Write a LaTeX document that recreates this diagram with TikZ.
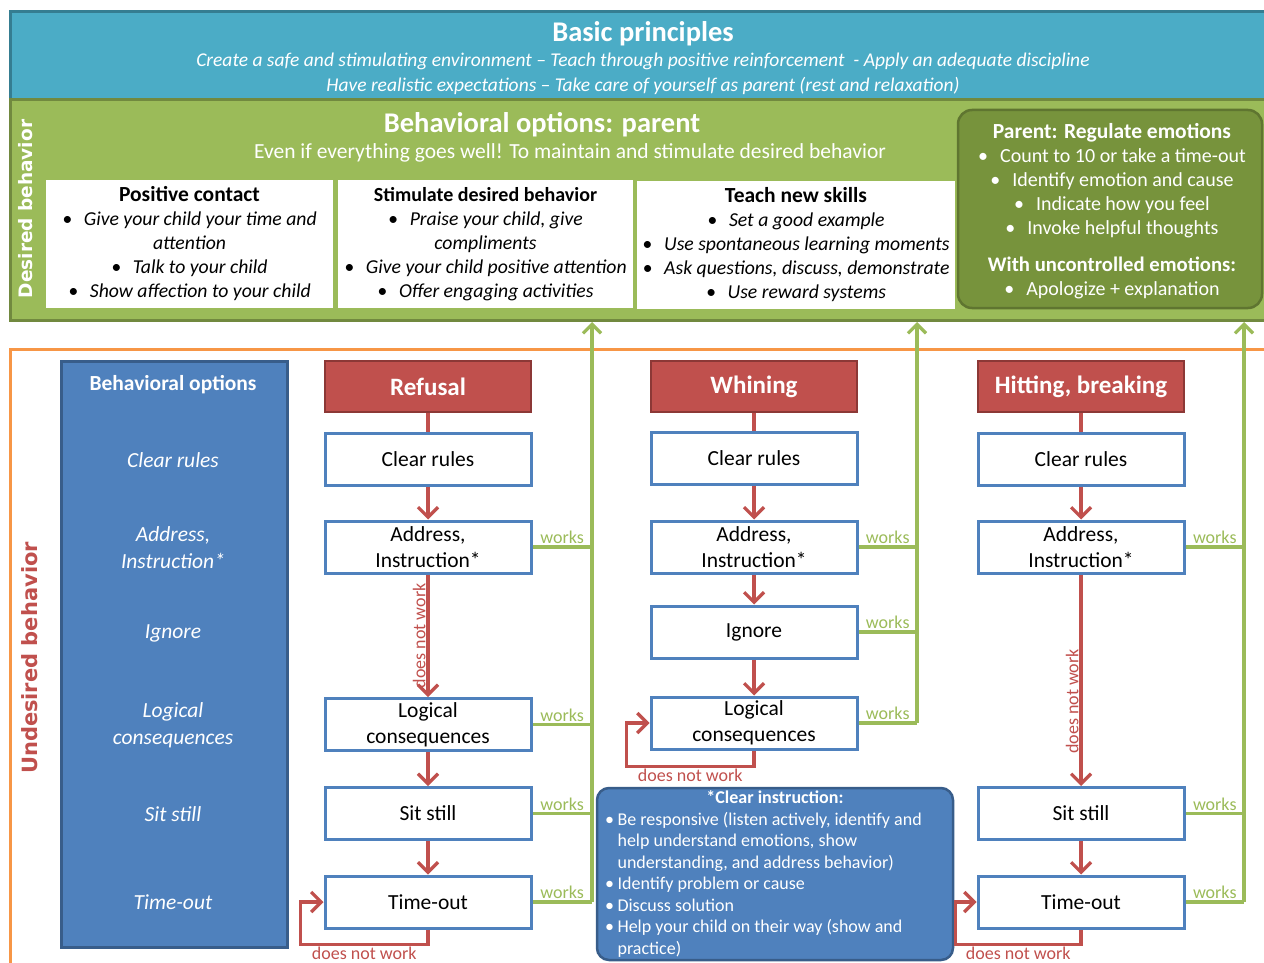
\documentclass[tikz,border=0pt]{standalone}
\usepackage{fontspec}
\setmainfont{Carlito}
\newfontfamily\sidefont{DejaVu Sans}
\usetikzlibrary{arrows.meta}
\definecolor{aquafill}{HTML}{4BACC6}
\definecolor{aquaedge}{HTML}{357D91}
\definecolor{greenfill}{HTML}{9BBB59}
\definecolor{greenedge}{HTML}{71893F}
\definecolor{dkgreen}{HTML}{77933C}
\definecolor{dkgreenedge}{HTML}{5F7530}
\definecolor{orangeln}{HTML}{F79646}
\definecolor{bluefill}{HTML}{4F81BD}
\definecolor{blueedge}{HTML}{385D8A}
\definecolor{redfill}{HTML}{C0504D}
\definecolor{rededge}{HTML}{8C3836}
\newcommand{\ib}{\textbullet\hspace{0.6em}}
\newcommand{\sbul}{\textbullet\hspace{0.2em}}
\tikzset{
  skillbox/.style={fill=white,minimum height=128pt,align=center,inner sep=1pt,
    font=\fontsize{19.7}{24}\selectfont},
  optbox/.style={draw=bluefill,line width=3pt,fill=white,minimum width=206pt,
    minimum height=52pt,align=center,inner sep=1pt,font=\fontsize{21.5}{26}\selectfont},
  headbox/.style={draw=rededge,line width=2.5pt,fill=redfill,minimum width=206pt,
    minimum height=51pt,text=white,font=\bfseries\fontsize{25}{30}\selectfont},
  optlbl/.style={text=white,align=center,font=\itshape\fontsize{21.5}{27}\selectfont},
  nextarr/.style={draw=redfill,line width=3.2pt,-{Straight Barb[length=10pt,width=20pt]}},
  redln/.style={draw=redfill,line width=3.2pt},
  worksline/.style={draw=greenfill,line width=3.2pt},
  uparr/.style={-{Straight Barb[length=9pt,width=18pt]}},
  workslbl/.style={text=greenfill,above,inner sep=1.5pt,font=\fontsize{18}{20}\selectfont},
  nwlbl/.style={text=redfill,inner sep=1pt,font=\fontsize{18}{20}\selectfont}
}
\begin{document}
\begin{tikzpicture}[x=1pt,y=-1pt]
\clip (0,0) rectangle (1264,963);
% basic principles
\filldraw[fill=aquafill,draw=aquaedge,line width=3pt] (10,12) rectangle (1290,100);
\node[white,font=\bfseries\fontsize{28.5}{32}\selectfont] (bp) at (643,34) {Basic principles};
\node[white,font=\itshape\fontsize{19.5}{24}\selectfont] (bp1) at (643,61) {Create a safe and stimulating environment – Teach through positive reinforcement\ \ - Apply an adequate discipline};
\node[white,font=\itshape\fontsize{19.5}{24}\selectfont] (bp2) at (643,86) {Have realistic expectations – Take care of yourself as parent (rest and relaxation)};
% desired behavior
\filldraw[fill=greenfill,draw=greenedge,line width=3pt] (10,100) rectangle (1290,320);
\node[white,rotate=90,font=\sidefont\bfseries\fontsize{18.5}{20}\selectfont] (desired) at (26,209) {Desired behavior};
\node[white,font=\bfseries\fontsize{28.5}{32}\selectfont] (bop) at (542,125) {Behavioral options: parent};
\node[white,font=\fontsize{21.5}{24}\selectfont] (bop1) at (570,153) {Even if everything goes well! To maintain and stimulate desired behavior};
\node[skillbox,minimum width=287pt] (contact) at (189.5,244) {{\bfseries\fontsize{21.5}{24}\selectfont Positive contact}\\
  \textit{\ib Give your child your time and}\\ \textit{attention}\\
  \textit{\ib Talk to your child}\\ \textit{\ib Show affection to your child}};
\node[skillbox,minimum width=295pt] (stimulate) at (485.5,244) {{\bfseries\fontsize{20}{24}\selectfont Stimulate desired behavior}\\
  \textit{\ib Praise your child, give}\\ \textit{compliments}\\
  \textit{\ib Give your child positive attention}\\ \textit{\ib Offer engaging activities}};
\node[skillbox,minimum width=318pt] (teach) at (796,245) {{\bfseries\fontsize{21.5}{24}\selectfont Teach new skills}\\
  \textit{\ib Set a good example}\\ \textit{\ib Use spontaneous learning moments}\\
  \textit{\ib Ask questions, discuss, demonstrate}\\ \textit{\ib Use reward systems}};
\node[fill=dkgreen,draw=dkgreenedge,line width=2.5pt,rounded corners=14pt,minimum width=304pt,
  minimum height=198pt,text=white,align=center,font=\fontsize{20}{24}\selectfont] (regulate) at (1110,209) {};
\node[text=white,align=center,font=\fontsize{20}{24}\selectfont] (regtext) at (1112,211)
  {{\bfseries\fontsize{21.5}{24}\selectfont Parent: Regulate emotions}\\
  \ib Count to 10 or take a time-out\\ \ib Identify emotion and cause\\
  \ib Indicate how you feel\\ \ib Invoke helpful thoughts\\[13pt]
  {\bfseries\fontsize{20.7}{24}\selectfont With uncontrolled emotions:}\\ \ib Apologize + explanation};
% undesired behavior
\draw[orangeln,line width=3pt] (10,349) rectangle (1290,1000);
\node[text=redfill,rotate=90,font=\sidefont\bfseries\fontsize{21}{24}\selectfont] (undesired) at (30,658) {Undesired behavior};
\node[fill=bluefill,draw=blueedge,line width=3pt,minimum width=226pt,minimum height=586pt] (optcol) at (174,654) {};
\node[white,font=\bfseries\fontsize{21.5}{24}\selectfont] (opthead) at (173,385) {Behavioral options};
\node[optlbl] (o1) at (173,460) {Clear rules};
\node[optlbl] (o2) at (173,548) {Address,\\Instruction*};
\node[optlbl] (o3) at (173,633) {Ignore};
\node[optlbl] (o4) at (173,725) {Logical\\consequences};
\node[optlbl] (o5) at (173,814) {Sit still};
\node[optlbl] (o6) at (173,902) {Time-out};
% refusal
\node[headbox] (ref) at (428,386.5) {Refusal};
\node[optbox] (refR) at (428,459) {Clear rules};
\node[optbox] (refA) at (428,547) {Address,\\Instruction*};
\node[optbox] (refL) at (428,724.5) {Logical\\consequences};
\node[optbox] (refS) at (428,813.5) {Sit still};
\node[optbox] (refT) at (428,902) {Time-out};
% whining
\node[headbox] (whi) at (754,386.5) {Whining};
\node[optbox] (whiR) at (754,458) {Clear rules};
\node[optbox] (whiA) at (754,547) {Address,\\Instruction*};
\node[optbox] (whiI) at (754,632) {Ignore};
\node[optbox] (whiL) at (754,723) {Logical\\consequences};
% hitting
\node[headbox] (hit) at (1081,386.5) {Hitting, breaking};
\node[optbox] (hitR) at (1081,459) {Clear rules};
\node[optbox] (hitA) at (1081,547) {Address,\\Instruction*};
\node[optbox] (hitS) at (1081,813.5) {Sit still};
\node[optbox] (hitT) at (1081,902) {Time-out};
% clear instruction
\node[fill=bluefill,draw=blueedge,line width=2.5pt,rounded corners=12pt,minimum width=356pt,
  minimum height=172pt,inner sep=2pt,text=white,align=left,font=\fontsize{18}{21.5}\selectfont] (instr) at (775,874)
  {\makebox[340pt]{\bfseries *Clear instruction:}\\
  \sbul Be responsive (listen actively, identify and\\
  \phantom{\sbul}help understand emotions, show\\
  \phantom{\sbul}understanding, and address behavior)\\
  \sbul Identify problem or cause\\
  \sbul Discuss solution\\
  \sbul Help your child on their way (show and\\
  \phantom{\sbul}practice)};
% red connectors
\draw[redln] (ref) -- (refR);
\draw[nextarr] (refR) -- (refA);
\draw[nextarr] (refA) -- node[nwlbl,rotate=90,anchor=south] {does not work} (refL);
\draw[nextarr] (refL) -- (refS);
\draw[nextarr] (refS) -- (refT);
\draw[nextarr] (refT.south) -- ++(0,15) -| node[nwlbl,pos=0.25,below,inner sep=0.5pt] {does not work} ([xshift=-23pt]refT.west) -- (refT.west);
\draw[redln] (whi) -- (whiR);
\draw[nextarr] (whiR) -- (whiA);
\draw[nextarr] (whiA) -- (whiI);
\draw[nextarr] (whiI) -- (whiL);
\draw[nextarr] (whiL.south) -- ++(0,16) -| node[nwlbl,pos=0.25,below] {does not work} ([xshift=-23pt]whiL.west) -- (whiL.west);
\draw[redln] (hit) -- (hitR);
\draw[nextarr] (hitR) -- (hitA);
\draw[nextarr] (hitA) -- node[nwlbl,rotate=90,anchor=south,pos=0.6] {does not work} (hitS);
\draw[nextarr] (hitS) -- (hitT);
\draw[nextarr] (hitT.south) -- ++(0,15) -| node[nwlbl,pos=0.25,below,inner sep=0.5pt] {does not work} ([xshift=-21pt]hitT.west) -- (hitT.west);
% green connectors
\coordinate (top1) at (592,322);
\coordinate (top2) at (917,322);
\coordinate (top3) at (1244,322);
\draw[worksline] (refA.east) -- node[workslbl] {works} (refA.east -| top1);
\draw[worksline] (refL.east) -- node[workslbl] {works} (refL.east -| top1);
\draw[worksline] (refS.east) -- node[workslbl] {works} (refS.east -| top1);
\draw[worksline] (refT.east) -- node[workslbl] {works} (refT.east -| top1);
\draw[worksline,uparr] (refT.east -| top1) -- (top1);
\draw[worksline] (whiA.east) -- node[workslbl] {works} (whiA.east -| top2);
\draw[worksline] (whiI.east) -- node[workslbl] {works} (whiI.east -| top2);
\draw[worksline] (whiL.east) -- node[workslbl] {works} (whiL.east -| top2);
\draw[worksline,uparr] (whiL.east -| top2) -- (top2);
\draw[worksline] (hitA.east) -- node[workslbl] {works} (hitA.east -| top3);
\draw[worksline] (hitS.east) -- node[workslbl] {works} (hitS.east -| top3);
\draw[worksline] (hitT.east) -- node[workslbl] {works} (hitT.east -| top3);
\draw[worksline,uparr] (hitT.east -| top3) -- (top3);
\end{tikzpicture}
\end{document}
